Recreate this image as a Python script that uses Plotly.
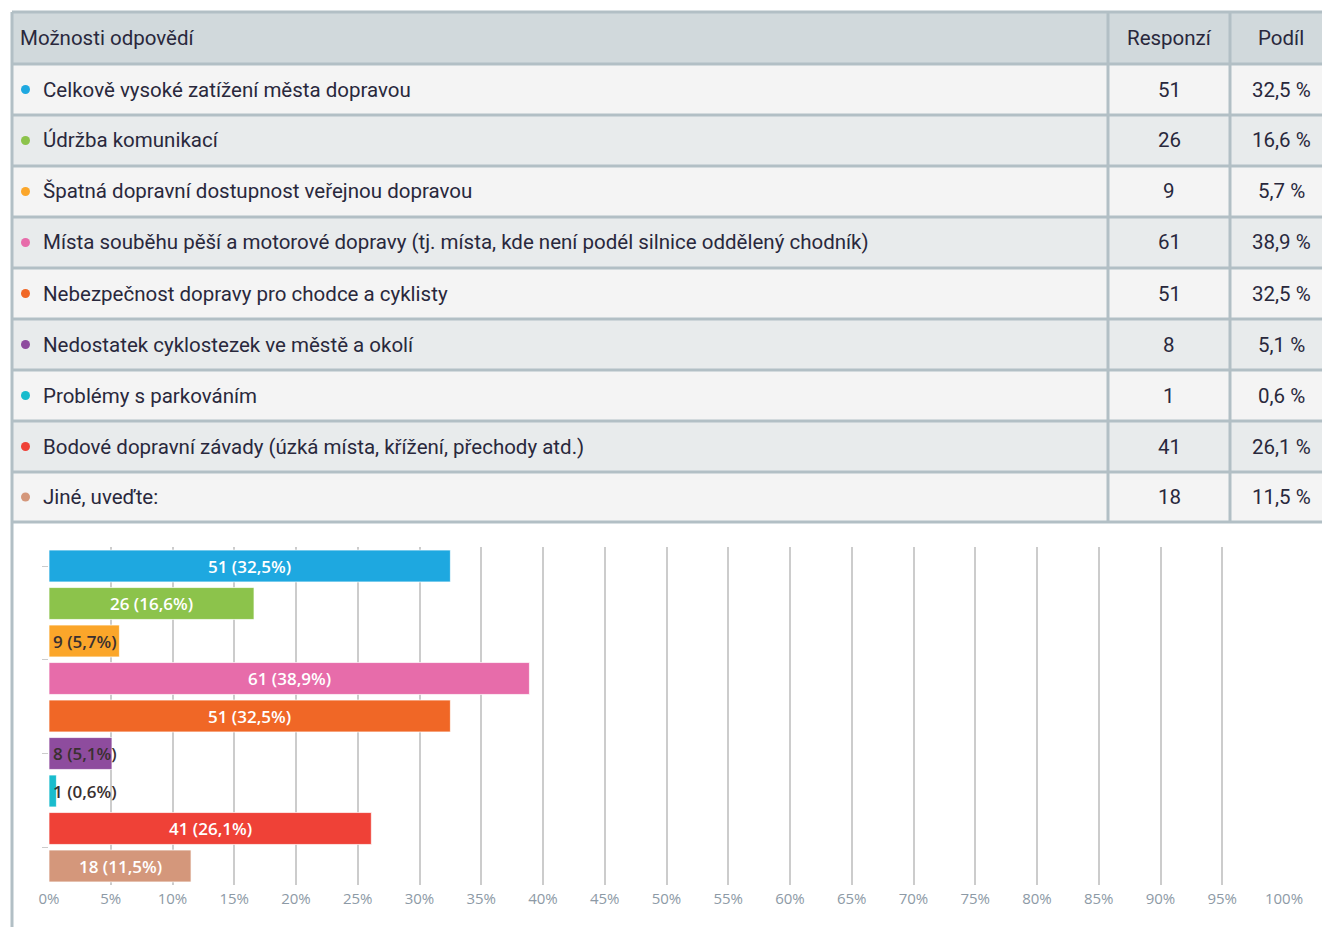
import plotly.graph_objects as go

W, H = 1322, 927

header = ["Možnosti odpovědí", "Responzí", "Podíl"]
categories = [
    "Celkově vysoké zatížení města dopravou",
    "Údržba komunikací",
    "Špatná dopravní dostupnost veřejnou dopravou",
    "Místa souběhu pěší a motorové dopravy (tj. místa, kde není podél silnice oddělený chodník)",
    "Nebezpečnost dopravy pro chodce a cyklisty",
    "Nedostatek cyklostezek ve městě a okolí",
    "Problémy s parkováním",
    "Bodové dopravní závady (úzká místa, křížení, přechody atd.)",
    "Jiné, uveďte:",
]
counts = [51, 26, 9, 61, 51, 8, 1, 41, 18]
percents = [32.5, 16.6, 5.7, 38.9, 32.5, 5.1, 0.6, 26.1, 11.5]
colors = ["#1ea8e0", "#8cc34b", "#fba62a", "#e76caa", "#f06726",
          "#8e4c9e", "#19bccd", "#ef4137", "#d4977b"]
x_ticks = list(range(0, 101, 5))


def fmt(p):
    return f"{p:.1f}".replace(".", ",")


def px(x):
    return x / W


def py(y):
    return 1 - y / H


FONT = "Roboto, sans-serif"
FS = 20.5
TXT = "#29283c"
BORDER = "#b2bfc5"

# table geometry (pixels)
tbl_left, col1, col2, tbl_right = 12, 1108, 1230, 1334
row_edges = [12, 64] + [64 + 51 * (i + 1) for i in range(len(categories))]
row_edges[-1] = 522

shapes = []
annotations = []

# fills
for i in range(len(row_edges) - 1):
    if i == 0:
        fill = "#d1d9dc"
    else:
        fill = "#f4f4f4" if i % 2 == 1 else "#e8ebec"
    shapes.append(dict(type="rect", xref="paper", yref="paper",
                       x0=px(tbl_left), x1=px(tbl_right),
                       y0=py(row_edges[i + 1]), y1=py(row_edges[i]),
                       fillcolor=fill, line=dict(width=0), layer="below"))
# horizontal lines
for y in row_edges:
    shapes.append(dict(type="line", xref="paper", yref="paper",
                       x0=px(tbl_left), x1=px(tbl_right), y0=py(y), y1=py(y),
                       line=dict(color=BORDER, width=3), layer="below"))
# vertical lines
for x in [col1, col2, tbl_right]:
    shapes.append(dict(type="line", xref="paper", yref="paper",
                       x0=px(x), x1=px(x), y0=py(row_edges[-1]), y1=py(row_edges[0]),
                       line=dict(color=BORDER, width=3), layer="below"))
# left border down to bottom
shapes.append(dict(type="line", xref="paper", yref="paper",
                   x0=px(tbl_left), x1=px(tbl_left), y0=0, y1=py(row_edges[0]),
                   line=dict(color=BORDER, width=3), layer="below"))

# header text
hy = py((row_edges[0] + row_edges[1]) / 2)
annotations.append(dict(text=header[0], x=px(18), y=hy, xref="paper", yref="paper",
                        xanchor="left", yanchor="middle", showarrow=False,
                        font=dict(family=FONT, size=FS, color=TXT)))
annotations.append(dict(text=header[1], x=px((col1 + col2) / 2), y=hy, xref="paper", yref="paper",
                        xanchor="center", yanchor="middle", showarrow=False,
                        font=dict(family=FONT, size=FS, color=TXT)))
annotations.append(dict(text=header[2], x=px(1281), y=hy, xref="paper", yref="paper",
                        xanchor="center", yanchor="middle", showarrow=False,
                        font=dict(family=FONT, size=FS, color=TXT)))

for i, (cat, c, p, col) in enumerate(zip(categories, counts, percents, colors)):
    yc = (row_edges[i + 1] + row_edges[i + 2]) / 2
    shapes.append(dict(type="circle", xref="paper", yref="paper",
                       x0=px(21), x1=px(30), y0=py(yc + 4.5), y1=py(yc - 4.5),
                       fillcolor=col, line=dict(width=0)))
    annotations.append(dict(text=cat, x=px(41), y=py(yc), xref="paper", yref="paper",
                            xanchor="left", yanchor="middle", showarrow=False,
                            font=dict(family=FONT, size=FS, color=TXT)))
    annotations.append(dict(text=str(c), x=px((col1 + col2) / 2), y=py(yc), xref="paper", yref="paper",
                            xanchor="center", yanchor="middle", showarrow=False,
                            font=dict(family=FONT, size=FS, color=TXT)))
    annotations.append(dict(text=fmt(p) + " %", x=px(1281), y=py(yc), xref="paper", yref="paper",
                            xanchor="center", yanchor="middle", showarrow=False,
                            font=dict(family=FONT, size=FS, color=TXT)))

# bar chart
ypos = list(range(len(categories)))
fig = go.Figure()
fig.add_trace(go.Bar(
    x=percents, y=ypos, orientation="h",
    marker=dict(color=colors, line=dict(color="rgba(255,255,255,0.7)", width=1)),
    width=0.85, hoverinfo="skip", showlegend=False,
))

BARFONT = "Open Sans, sans-serif"
for yv, c, p in zip(ypos, counts, percents):
    label = f"{c} ({fmt(p)}%)"
    if p >= 10:
        annotations.append(dict(text=label, x=p / 2, y=yv, xref="x", yref="y",
                                xanchor="center", yanchor="middle", showarrow=False,
                                font=dict(family=BARFONT, size=17, color="white", weight=600)))
    else:
        annotations.append(dict(text=label, x=0, y=yv, xref="x", yref="y",
                                xanchor="left", yanchor="middle", showarrow=False, xshift=2,
                                font=dict(family=BARFONT, size=17, color="#3a3030", weight=600)))

fig.update_layout(
    template="none",
    width=W, height=H, autosize=False,
    margin=dict(l=0, r=0, t=0, b=0, pad=0, autoexpand=False),
    paper_bgcolor="white", plot_bgcolor="white",
    shapes=shapes, annotations=annotations,
    xaxis=dict(domain=[px(49), px(1284)], range=[0, 100], tickvals=x_ticks,
               ticktext=[f"{t}%" for t in x_ticks], automargin=False,
               showgrid=True, gridcolor="#cccccc", gridwidth=2, zeroline=False,
               showline=False, ticks="", anchor="y", ticklabelstandoff=3,
               tickfont=dict(family=BARFONT, size=15, color="#8d9aa6")),
    yaxis=dict(domain=[py(884.75), py(547.25)], range=[8.5, -0.5], automargin=False,
               tickvals=[0, 2.5, 5, 7.5], showticklabels=False,
               ticks="outside", ticklen=6, tickcolor="#cccccc", tickwidth=1,
               showgrid=False, zeroline=False, showline=False),
)

fig.write_html(
    "out.html",
    config={"displayModeBar": False, "responsive": False},
    post_script="document.body.style.margin='0';document.body.style.overflow='hidden';",
)
